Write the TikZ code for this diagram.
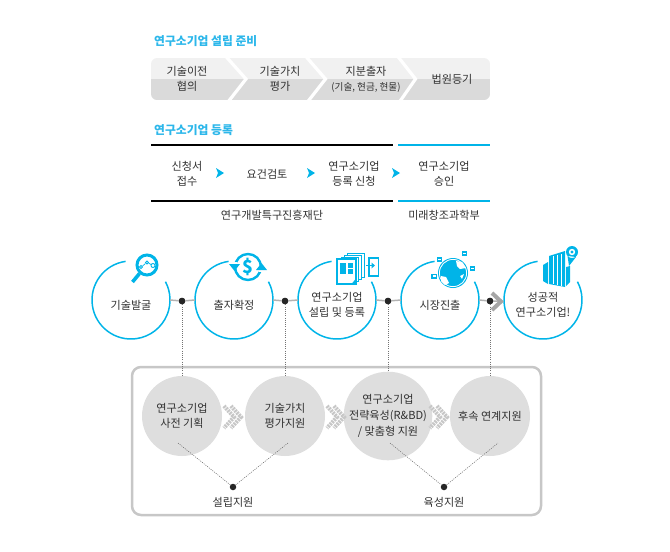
\documentclass[tikz,border=0pt]{standalone}
\usepackage{xcolor}
\usepackage{fontspec}
\setmainfont{Noto Sans CJK KR}
\usetikzlibrary{positioning}

\definecolor{skyline}{HTML}{00B4E8}
\definecolor{skytitle}{HTML}{2DB7EA}
\definecolor{bandtop}{HTML}{F1F1F1}
\definecolor{bandlow}{HTML}{DADADA}
\definecolor{softgray}{HTML}{DEDEDE}
\definecolor{bodytext}{HTML}{303030}

\tikzset{
    label text/.style={
        font=\fontsize{11.1}{15}\selectfont,
        text=bodytext,
        align=center,
        inner sep=0pt
    },
    title text/.style={
        font=\fontsize{11.8}{14}\selectfont\bfseries,
        text=skytitle,
        anchor=west,
        inner sep=0pt
    },
    stage/.style={
        circle,
        minimum size=78pt,
        inner sep=0pt,
        outer sep=0pt
    },
    stage arc/.style={
        line width=1.5pt,
        draw=skyline
    },
    support/.style={
        label text,
        circle,
        fill=softgray,
        minimum size=80pt,
        outer sep=0pt
    },
    link/.style={
        line width=1.5pt,
        draw=black!30
    },
    joint/.style={
        circle,
        fill=black!85,
        minimum size=6.5pt,
        inner sep=0pt
    },
    dotline/.style={
        line width=0.6pt,
        draw=black!55,
        dash pattern=on 1pt off 1.2pt
    },
    black rule/.style={
        line width=1.6pt,
        draw=black
    },
    blue rule/.style={
        line width=1.6pt,
        draw=skyline
    },
    step tip/.style={
        fill=skyline
    },
    gray chevron/.style={
        line width=4pt,
        draw=black!22,
        dash pattern=on 2pt off 0.9pt
    },
    icon line/.style={
        draw=skyline,
        line width=1.4pt
    }
}

\begin{document}
\begin{tikzpicture}[x=1pt,y=-1pt]
    \useasboundingbox (0,0) rectangle (670,552);

    \node[title text] (prepare) at (154,41) {연구소기업 설립 준비};

    \begin{scope}
        \clip[rounded corners=6pt] (151,58) rectangle (490,100);
        \fill[bandtop] (151,58) rectangle (490,79);
        \fill[bandlow] (151,79) rectangle (490,100);
        \draw[white, line width=3.2pt] (225.5,56) -- (246,79) -- (228,102);
        \draw[white, line width=3.2pt] (305.5,56) -- (325.5,79) -- (307.5,102);
        \draw[white, line width=3.2pt] (397.5,56) -- (415.5,79) -- (399.5,102);
    \end{scope}

    \node[label text] (transfer) at (187,79) {기술이전\\협의};
    \node[label text] (valuation) at (280,79) {기술가치\\평가};
    \node[label text] (invest) at (366,79) {지분출자\\{\fontsize{9.6}{15}\selectfont (기술, 현금, 현물)}};
    \node[label text] (court) at (452,79) {법원등기};

    \node[title text] (register) at (154,130) {연구소기업 등록};

    \draw[black rule] (151,145) -- (393,145);
    \draw[blue rule] (398,145) -- (490,145);
    \draw[black rule] (151,201) -- (393,201);
    \draw[blue rule] (398,201) -- (490,201);

    \node[label text] (apply) at (187,174) {신청서\\접수};
    \node[label text] (review) at (267,174) {요건검토};
    \node[label text] (request) at (354,174) {연구소기업\\등록 신청};
    \node[label text] (approve) at (444,174) {연구소기업\\승인};

    \fill[step tip] (216,168) -- (224,173) -- (216,178) -- (218,173) -- cycle;
    \fill[step tip] (307,168) -- (315,173) -- (307,178) -- (309,173) -- cycle;
    \fill[step tip] (392,168) -- (400,173) -- (392,178) -- (394,173) -- cycle;

    \node[label text] (foundation) at (272,215) {연구개발특구진흥재단};
    \node[label text] (ministry) at (444,215) {미래창조과학부};

    \draw[
        line width=2.5pt,
        rounded corners=9pt,
        draw=black!22
        ] (132,367) rectangle (541,515);

    \node[stage] (discover) at (131,300) {};
    \node[stage] (confirm) at (234,300) {};
    \node[stage] (establish) at (337,300) {};
    \node[stage] (market) at (440,300) {};
    \node[stage] (success) at (543,300) {};

    \node[label text] (discovertext) at (131,305) {기술발굴};
    \node[label text] (confirmtext) at (234,305) {출자확정};
    \node[label text] (establishtext) at (337,305) {연구소기업\\설립 및 등록};
    \node[label text] (markettext) at (440,305) {시장진출};
    \node[label text] (successtext) at (543,305) {성공적\\연구소기업!};

    \draw[stage arc] (discover.98) arc[start angle=-98,end angle=-388,radius=39];
    \draw[stage arc] (confirm.98) arc[start angle=-98,end angle=-388,radius=39];
    \draw[stage arc] (establish.98) arc[start angle=-98,end angle=-388,radius=39];
    \draw[stage arc] (market.98) arc[start angle=-98,end angle=-388,radius=39];
    \draw[stage arc] (success.98) arc[start angle=-98,end angle=-388,radius=39];

    \node[support] (plan) at (182,416) {연구소기업\\사전 기획};
    \node[support] (worth) at (285,416) {기술가치\\평가지원};
    \node[support, font=\fontsize{11.1}{15.8}\selectfont] (growth) at (388,416) {연구소기업\\전략육성(R\&BD)\\/ 맞춤형 지원};
    \node[support] (follow) at (490,416) {후속 연계지원};

    \node[joint] (joint1) at (182,301) {};
    \node[joint] (joint2) at (285,301) {};
    \node[joint] (joint3) at (388,301) {};
    \node[joint] (joint4) at (490,301) {};

    \coordinate (tip) at (500,301);

    \draw[link] (discover.east) -- (joint1) -- (confirm.west);
    \draw[link] (confirm.east) -- (joint2) -- (establish.west);
    \draw[link] (establish.east) -- (joint3) -- (market.west);
    \draw[link] (market.east) -- (joint4) -- (tip);

    \draw[
        line width=4pt,
        draw=black!35
        ] (492,293) -- (501,301.5) -- (492,310);

    \node[joint] at (joint1) {};
    \node[joint] at (joint2) {};
    \node[joint] at (joint3) {};
    \node[joint] at (joint4) {};

    \draw[dotline] (joint1) -- (plan.north);
    \draw[dotline] (joint2) -- (worth.north);
    \draw[dotline] (joint3) -- (growth.north);
    \draw[dotline] (joint4) -- (follow.north);

    \draw[gray chevron] (224,406) -- (234,417) -- (224,428);
    \draw[gray chevron] (231,406) -- (241,417) -- (231,428);
    \draw[gray chevron] (327,406) -- (337,417) -- (327,428);
    \draw[gray chevron] (334,406) -- (344,417) -- (334,428);
    \draw[gray chevron] (430,406) -- (440,417) -- (430,428);
    \draw[gray chevron] (437,406) -- (447,417) -- (437,428);

    \node[joint] (setup) at (233,487) {};
    \node[joint] (nurture) at (444,487) {};
    \node[label text, below=7pt of setup] (setuplabel) {설립지원};
    \node[label text, below=7pt of nurture] (nurturelabel) {육성지원};

    \coordinate (plan foot) at (178,443);
    \coordinate (worth foot) at (288,443);
    \coordinate (growth foot) at (390,443);
    \coordinate (follow foot) at (498,443);

    \draw[dotline] (plan foot) -- (setup) -- (worth foot);
    \draw[dotline] (growth foot) -- (nurture) -- (follow foot);

    \draw[icon line, line width=3pt] (147,265) circle[radius=10];
    \draw[icon line, line width=3.6pt] (139.5,273.5) -- (132.5,282);
    \draw[icon line, line width=0.9pt, fill=white] (141,267) circle[radius=1.6];
    \draw[icon line, line width=0.9pt, fill=white] (147,262.5) circle[radius=1.6];
    \draw[icon line, line width=0.9pt, fill=white] (153,265.5) circle[radius=2];
    \draw[icon line, line width=0.7pt] (142.5,266) -- (145.5,263.5) (148.5,263) -- (151,264.5);

    \draw[icon line, line width=2.4pt] (248,267) circle[radius=13];
    \fill[white] (231,262) rectangle (237,268);
    \fill[white] (259,266) rectangle (265,272);
    \fill[skyline] (229,264) -- (240,264) -- (234.5,271) -- cycle;
    \fill[skyline] (256,270) -- (267,270) -- (261.5,263) -- cycle;
    \node[
        font=\fontsize{18}{18}\selectfont\bfseries,
        text=skyline,
        inner sep=0pt
        ] (dollar) at (248,267) {\$};

    \draw[icon line, line width=1pt, fill=white] (347,253) rectangle (364,277);
    \draw[icon line, line width=1pt, fill=white] (344,255) rectangle (361,279);
    \draw[icon line, line width=1pt, fill=white] (341,257) rectangle (358,281);
    \draw[icon line, line width=1.5pt, fill=white] (337,259) rectangle (356,284);
    \fill[skyline] (340,263) rectangle (346,273.5);
    \fill[skyline] (347.5,263) rectangle (352.5,268);
    \fill[skyline] (347.5,269) rectangle (352.5,273.5);
    \fill[skyline] (351.5,284) -- (356,284) -- (356,278.5) -- cycle;
    \draw[icon line, line width=1.2pt] (369,258) rectangle (378.5,276);
    \draw[icon line, line width=1.2pt] (366,265.5) -- (372,265.5);
    \fill[skyline] (371.5,262.5) -- (375,265.5) -- (371.5,268.5) -- cycle;

    \fill[skyline] (453,273) circle[radius=15];
    \draw[white, line width=0.8pt] (453,273) circle[radius=13.6];
    \fill[white] (456,261) -- (462,262) -- (466,268) -- (460,269) -- (457,266) -- cycle;
    \fill[white] (441,276) -- (446,277) -- (449,283) -- (445,285) -- (441,281) -- cycle;
    \fill[white] (460,276) -- (464,274) -- (462,279) -- cycle;
    \fill[skyline] (436.5,256.5) rectangle (442,262);
    \fill[skyline] (461.5,250.5) rectangle (467,256);
    \fill[skyline] (469.5,265.5) rectangle (475,271);
    \fill[skyline] (431,273.5) rectangle (437,278.5);
    \fill[white] (438,258.5) rectangle (440.5,260);
    \fill[white] (463,252.5) rectangle (465.5,254);
    \fill[white] (471,267.5) rectangle (473.5,269);
    \fill[white] (432.5,275) rectangle (435.5,277);

    \fill[skyline] (543,265) -- (548,262) -- (548,284) -- (543,281) -- cycle;
    \fill[skyline] (549,256) -- (565,251) -- (565,287) -- (549,284) -- cycle;
    \fill[skyline] (566,267) -- (570,266) -- (570,282) -- (566,286) -- cycle;
    \draw[white, line width=0.7pt] (553,256) -- (553,284) (557,255) -- (557,285) (561,254) -- (561,286);
    \fill[skyline] (572,252) circle[radius=6] (567.5,256) -- (569,266) -- (576,257) -- cycle;
    \fill[white] (572,252) circle[radius=3.2];
    \fill[skyline] (572,252) circle[radius=1.6];
\end{tikzpicture}
\end{document}
